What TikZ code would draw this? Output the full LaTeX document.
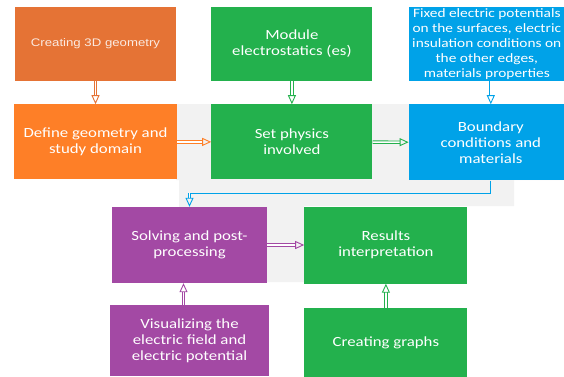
\documentclass[tikz,border=0pt]{standalone}
\usepackage{fontspec}
\setmainfont{Carlito}[FakeStretch=1.2]
\newfontfamily\arialfont{Liberation Sans}[FakeStretch=1.2]
\usetikzlibrary{arrows.meta,positioning}
\definecolor{createc}{RGB}{229,115,53}
\definecolor{definec}{RGB}{254,127,39}
\definecolor{greenc}{RGB}{35,177,77}
\definecolor{bluec}{RGB}{0,162,232}
\definecolor{purplec}{RGB}{163,73,164}
\definecolor{panelc}{RGB}{242,242,242}
\tikzset{
    %Define style for boxes
    boks/.style={
           rectangle,
           inner sep=0pt,
           minimum width=161pt,
           minimum height=74pt,
           text=white,
           align=center,
           font=\fontsize{14}{16}\selectfont},
    orangebox/.style={boks, fill=definec},
    greenbox/.style={boks, fill=greenc},
    bluebox/.style={boks, fill=bluec, minimum width=164pt},
    purplebox/.style={boks, fill=purplec},
    % Define arrow style
    hollow/.style={
           draw=#1,
           line width=0.9pt,
           double=white,
           double distance=1.5pt,
           -{Triangle[open, length=9pt, width=8pt]}},
    blueline/.style={draw=bluec, line width=1pt}
}
\begin{document}
\begin{tikzpicture}[x=1pt,y=1pt,node distance=23pt]
\useasboundingbox (0,0) rectangle (564,-376);
%grey panel
\fill[panelc] (176,-104) rectangle (564,-180)
    (179,-180) rectangle (514,-206)
    (179,-206) rectangle (304,-282);
%nodes
\node[boks, fill=createc, text=white!85!createc, font=\arialfont\fontsize{11}{13}\selectfont](create) at (95.5,-44){Creating 3D geometry};
\node[orangebox, minimum width=163pt, minimum height=75pt, below=of create](define){Define geometry and\\study domain};
\node[greenbox, right=35pt of create](module){Module\\electrostatics (es)};
\node[greenbox, minimum height=75pt, below=of module](physics){Set physics\\involved};
\node[bluebox, minimum width=156pt, right=36pt of module, font=\fontsize{12.8}{15}\selectfont](fixed){Fixed electric potentials\\on the surfaces, electric\\insulation conditions on\\the other edges,\\materials properties};
\node[bluebox, minimum height=76pt, below=of fixed.south west, anchor=north west](boundary){Boundary\\conditions and\\materials};
\node[purplebox, minimum width=155pt, minimum height=76pt](solve) at (189.5,-245){Solving and post-\\processing};
\node[greenbox, minimum width=163pt, minimum height=77pt, right=37pt of solve](results){Results\\interpretation};
\node[purplebox, minimum width=159pt, minimum height=71pt, below=22pt of solve](visual){Visualizing the\\electric field and\\electric potential};
\node[greenbox, minimum width=163pt, minimum height=69pt, below=24pt of results](graphs){Creating graphs};
\coordinate (bend) at (solve.north |- 0,-193);
%connectors
\draw[blueline] (boundary.south) |- (bend);
\path (create) edge[hollow=createc] (define)
    (module) edge[hollow=greenc] (physics)
    ([xshift=4pt]fixed.south) edge[hollow=bluec] ([xshift=4pt]fixed.south |- boundary.north)
    (define) edge[hollow=definec] (physics)
    (physics) edge[hollow=greenc] (boundary)
    (bend) edge[hollow=bluec] (solve)
    (solve) edge[hollow=purplec] (results)
    ([xshift=-6pt]visual.north) edge[hollow=purplec] ([xshift=-6pt]solve.south)
    (graphs) edge[hollow=greenc] (results);
\end{tikzpicture}
\end{document}
